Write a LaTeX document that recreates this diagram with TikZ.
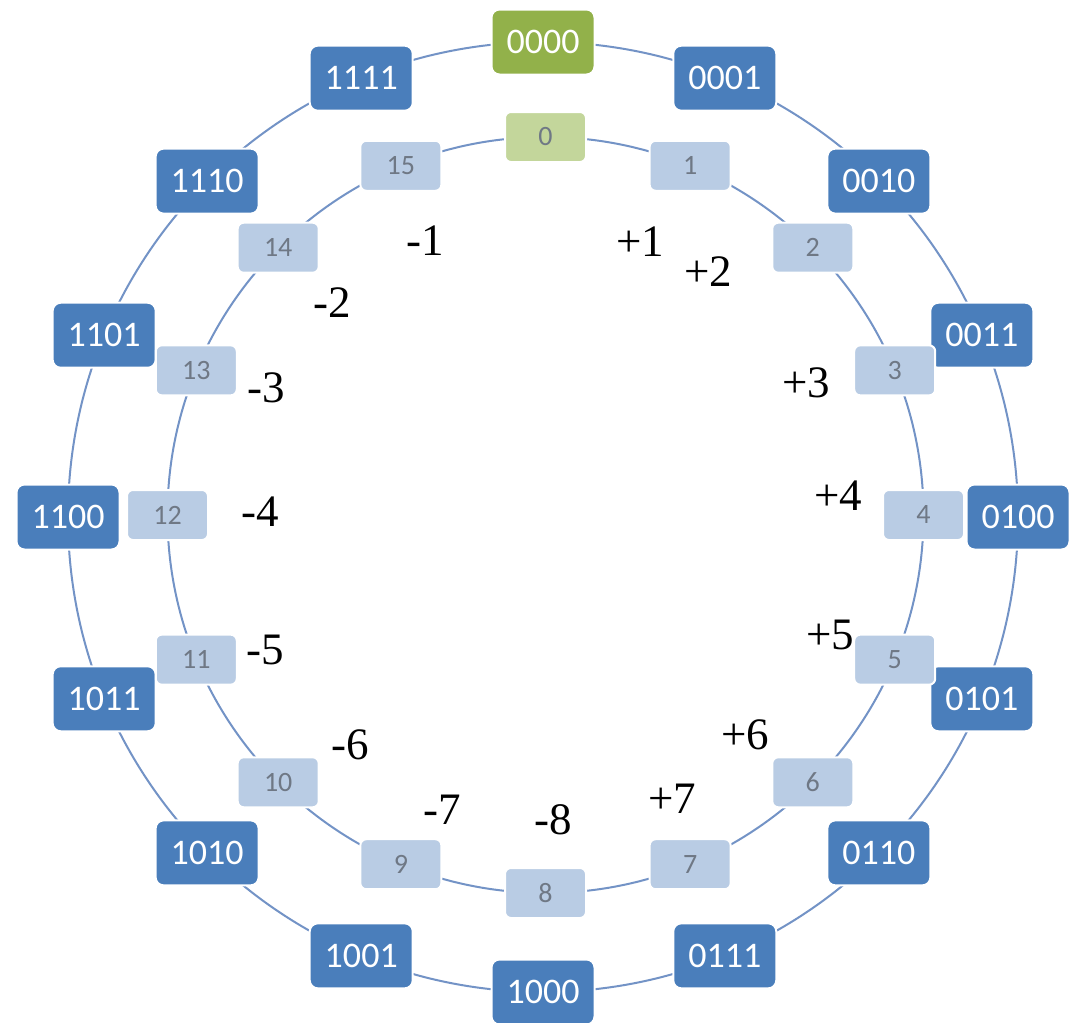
\documentclass[tikz,border=0pt]{standalone}
\usepackage{fontspec}
\setmainfont{Liberation Serif}
\newfontfamily\boxfont{Carlito}
\usepackage{tikz}
\usetikzlibrary{positioning, calc}
\definecolor{ringline}{HTML}{7393C6}
\definecolor{bitblue}{HTML}{4A7EBB}
\definecolor{bitgreen}{HTML}{92B14A}
\definecolor{numblue}{HTML}{B9CCE4}
\definecolor{numgreen}{HTML}{C3D69B}
\definecolor{numtext}{HTML}{6F7885}
\tikzset{
  bitbox/.style={fill=bitblue, draw=white, line width=2pt, rounded corners=8pt,
    minimum width=103pt, minimum height=65pt, inner sep=0pt,
    text=white, font=\boxfont\fontsize{36}{36}\selectfont},
  numbox/.style={fill=numblue, draw=white, line width=2pt, rounded corners=6pt,
    minimum width=81pt, minimum height=50pt, inner sep=0pt,
    text=numtext, font=\boxfont\fontsize{28}{28}\selectfont},
  signlabel/.style={inner sep=0pt, font=\fontsize{45}{45}\selectfont}
}
\begin{document}
\begin{tikzpicture}[x=1pt, y=-1pt]
  \useasboundingbox (0,0) rectangle (1069,1023);

  % Ring centres and the two rings
  \coordinate (outer) at (543,517);
  \coordinate (inner) at (545.5,515);
  \draw[ringline, line width=2pt] (outer) circle[radius=475pt];
  \draw[ringline, line width=2pt] (inner) circle[radius=378pt];

  % Outer ring - 4-bit codes
  \node[bitbox, fill=bitgreen] (o0) at ($(outer)+(-90:475)$) {0000};
  \foreach \b [count=\k] in {0001,0010,0011,0100,0101,0110,0111,1000,1001,1010,1011,1100,1101,1110,1111}
    \node[bitbox] (o\k) at ($(outer)+(22.5*\k-90:475)$) {\b};

  % Inner ring - unsigned values
  \node[numbox, fill=numgreen] (i0) at ($(inner)+(-90:378)$) {0};
  \foreach \k in {1,...,15}
    \node[numbox] (i\k) at ($(inner)+(22.5*\k-90:378)$) {\k};

  % Signed values - right side
  \node[signlabel] (p1) at (640,242) {+1};
  \node[signlabel] (p2) at (708,272) {+2};
  \node[signlabel] (p3) at (806,383) {+3};
  \node[signlabel] (p4) at (838,496) {+4};
  \node[signlabel] (p5) at (830,635) {+5};
  \node[signlabel] (p6) at (745,735) {+6};
  \node[signlabel] (p7) at (672,799) {+7};

  % Signed values - left side
  \node[signlabel] (m1) at (425,241) {-1};
  \node[signlabel] (m2) at (332,303) {-2};
  \node[signlabel] (m3) at (266,388) {-3};
  \node[signlabel] (m4) at (260,512) {-4};
  \node[signlabel] (m5) at (265,650) {-5};
  \node[signlabel] (m6) at (350,745) {-6};
  \node[signlabel] (m7) at (442,810) {-7};
  \node[signlabel] (m8) at (553,820) {-8};
\end{tikzpicture}
\end{document}
